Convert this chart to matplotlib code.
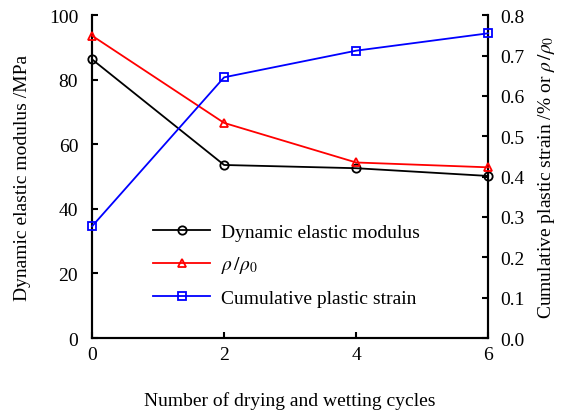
import numpy as np
from matplotlib import pyplot as plt

plt.rcParams['font.family'] = ['Liberation Serif', 'DejaVu Serif']
plt.rcParams['mathtext.fontset'] = 'stix'
plt.rcParams['font.size'] = 14

cycles = [0, 2, 4, 6]
modulus = [86.3, 53.6, 52.6, 50.2]
density_ratio = [0.749, 0.533, 0.435, 0.423]
plastic_strain = [0.277, 0.646, 0.712, 0.755]

fig = plt.figure(figsize=(5.65, 4.14), dpi=100)
ax = fig.add_axes([0.163, 0.181, 0.701, 0.780])
ax2 = ax.twinx()

l1, = ax.plot(cycles, modulus, color='black', marker='o', mfc='none', ms=6, lw=1.3,
              mew=1.3, label='Dynamic elastic modulus', clip_on=False, zorder=3)
l2, = ax2.plot(cycles, density_ratio, color='red', marker='^', mfc='none', ms=6, lw=1.3,
               mew=1.3, label=r'$\rho\,/\rho_0$', clip_on=False, zorder=3)
l3, = ax2.plot(cycles, plastic_strain, color='blue', marker='s', mfc='none', ms=6, lw=1.3,
               mew=1.3, label='Cumulative plastic strain', clip_on=False, zorder=3)

ax.set_xlim(0, 6)
ax.set_ylim(0, 100)
ax2.set_ylim(0, 0.8)
ax.set_xticks([0, 2, 4, 6])
ax.set_yticks(np.arange(0, 101, 20))
ax2.set_yticks(np.arange(0, 0.81, 0.1))
ax2.set_yticklabels([f"{v:.1f}" for v in np.arange(0, 0.81, 0.1)])

for a in (ax, ax2):
    a.spines['top'].set_visible(False)
    for s in a.spines.values():
        s.set_linewidth(1.5)
    a.tick_params(direction='in', width=1.5, length=4, labelsize=14)
ax.tick_params(axis='x', pad=6)
ax.tick_params(axis='y', pad=10)
ax2.tick_params(axis='y', pad=9)

ax.set_xlabel('Number of drying and wetting cycles', labelpad=20)
ax.set_ylabel('Dynamic elastic modulus /MPa', labelpad=13)
ax2.set_ylabel(r'Cumulative plastic strain /% or $\rho\,/\rho_0$', labelpad=8)

ax.legend(handles=[l1, l2, l3], loc='upper left', bbox_to_anchor=(0.135, 0.38),
          frameon=False, handlelength=2.9, handletextpad=0.6, labelspacing=0.7,
          borderaxespad=0, fontsize=14)

plt.savefig('out.png', dpi=100)
